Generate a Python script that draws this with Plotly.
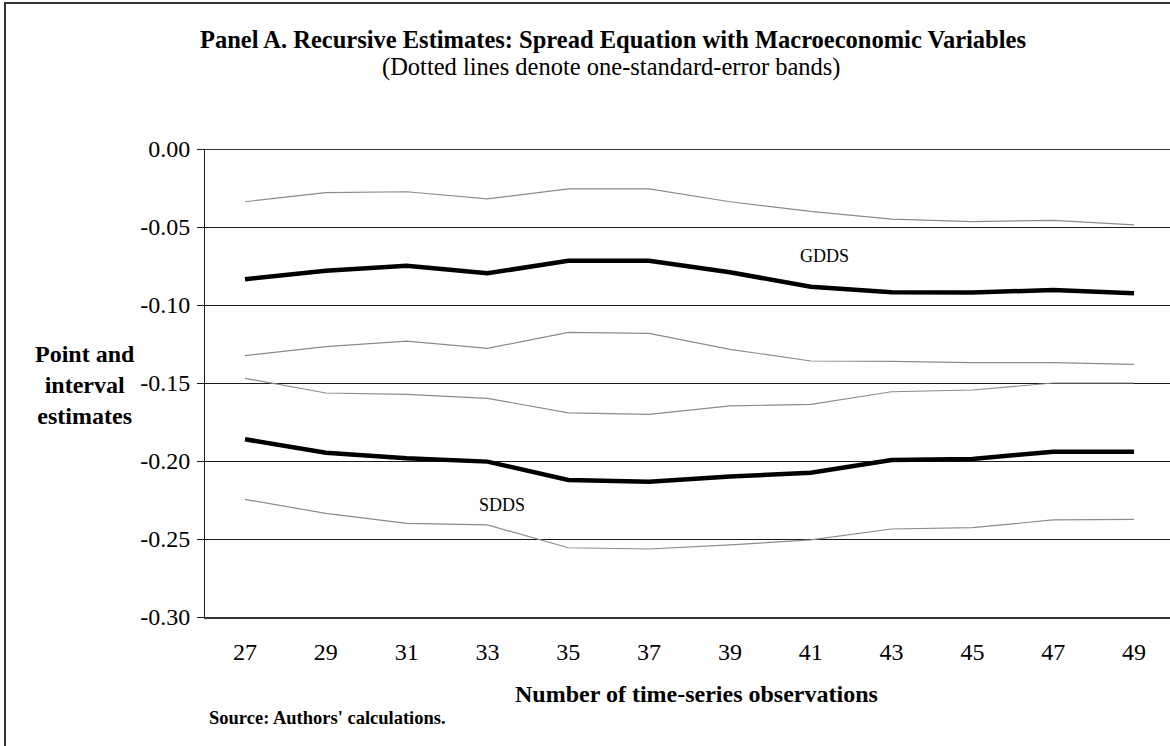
import plotly.graph_objects as go

# ---------------- data ----------------
obs = [27, 29, 31, 33, 35, 37, 39, 41, 43, 45, 47, 49]

gdds_upper = [-0.0338, -0.0280, -0.0274, -0.0320, -0.0256, -0.0256, -0.0338, -0.0400, -0.0450, -0.0466, -0.0457, -0.0487]
gdds_point = [-0.0835, -0.0780, -0.0748, -0.0797, -0.0716, -0.0716, -0.0790, -0.0883, -0.0919, -0.0920, -0.0904, -0.0925]
gdds_lower = [-0.1325, -0.1267, -0.1231, -0.1278, -0.1175, -0.1182, -0.1284, -0.1359, -0.1361, -0.1370, -0.1370, -0.1380]

sdds_upper = [-0.1470, -0.1564, -0.1573, -0.1598, -0.1692, -0.1701, -0.1647, -0.1637, -0.1556, -0.1545, -0.1500, -0.1500]
sdds_point = [-0.1861, -0.1947, -0.1983, -0.2004, -0.2122, -0.2133, -0.2100, -0.2075, -0.1994, -0.1987, -0.1940, -0.1940]
sdds_lower = [-0.2246, -0.2336, -0.2400, -0.2410, -0.2556, -0.2564, -0.2538, -0.2506, -0.2436, -0.2427, -0.2378, -0.2374]

y_ticks = [0.00, -0.05, -0.10, -0.15, -0.20, -0.25, -0.30]

# ---------------- layout geometry (pixels) ----------------
W, H = 1170, 746
ML, MR, MT, MB = 205, 0, 149, 129
PW, PH = W - ML - MR, H - MT - MB


def px_x(p):
    return (p - ML) / PW


def px_y(p):
    return 1 - (p - MT) / PH


SERIF = "Liberation Serif, Times New Roman, serif"

fig = go.Figure()

band_style = dict(color="#8c8c8c", width=1.2)
point_style = dict(color="#000000", width=4.5)

for ys, st in [(gdds_upper, band_style), (gdds_lower, band_style),
               (sdds_upper, band_style), (sdds_lower, band_style),
               (gdds_point, point_style), (sdds_point, point_style)]:
    fig.add_trace(go.Scatter(x=obs, y=ys, mode="lines", line=st,
                             hoverinfo="skip", showlegend=False))

fig.update_layout(
    width=W, height=H,
    margin=dict(l=ML, r=MR, t=MT, b=MB, pad=0),
    paper_bgcolor="white", plot_bgcolor="white",
    font=dict(family=SERIF, color="black", size=24),
    showlegend=False,
)

fig.update_xaxes(
    range=[26.01, 49.89],
    tickvals=obs, ticktext=[str(v) for v in obs],
    showgrid=False, zeroline=False,
    showline=True, linecolor="#333333", linewidth=2,
    ticks="", ticklabelstandoff=12,
    tickfont=dict(family=SERIF, size=24, color="black"),
)

fig.update_yaxes(
    range=[-0.30, 0.0],
    tickvals=y_ticks, ticktext=[f"{v:.2f}" for v in y_ticks],
    showgrid=True, gridcolor="#1a1a1a", gridwidth=1,
    zeroline=False,
    showline=True, linecolor="#1a1a1a", linewidth=1,
    ticks="outside", ticklen=7, tickcolor="#1a1a1a", tickwidth=1,
    ticklabelstandoff=2,
    tickfont=dict(family=SERIF, size=24, color="black"),
)

# top gridline at 0.00 (drawn explicitly so it is visible at the plot edge)
fig.add_shape(type="line", xref="paper", yref="y", x0=0, x1=1, y0=0, y1=0,
              line=dict(color="#333333", width=2))

# frame around the whole chart (left and top edges visible)
fig.add_shape(type="rect", xref="paper", yref="paper",
              x0=px_x(5), x1=px_x(1300), y0=px_y(3), y1=px_y(900),
              line=dict(color="#333333", width=2), layer="below")

ann = [
    dict(text="<b>Panel A. Recursive Estimates: Spread Equation with Macroeconomic Variables</b>",
         x=px_x(613), y=px_y(40), size=24.5),
    dict(text="(Dotted lines denote one-standard-error bands)",
         x=px_x(611), y=px_y(67), size=24.5),
    dict(text="<b>Number of time-series observations</b>",
         x=px_x(696), y=px_y(694), size=24),
    dict(text="<b>Point and<br>interval<br>estimates</b>",
         x=px_x(85), y=px_y(385), size=24),
]
for a in ann:
    fig.add_annotation(text=a["text"], xref="paper", yref="paper",
                       x=a["x"], y=a["y"], xanchor="center", yanchor="middle",
                       showarrow=False, align="center",
                       font=dict(family=SERIF, size=a["size"], color="black"))

fig.add_annotation(text="<b>Source: Authors' calculations.</b>", xref="paper", yref="paper",
                   x=px_x(207), y=px_y(718), xanchor="left", yanchor="middle",
                   showarrow=False, font=dict(family=SERIF, size=18.5, color="black"))

# series labels
fig.add_annotation(text="GDDS", x=41.33, y=-0.0686, xref="x", yref="y",
                   showarrow=False, font=dict(family=SERIF, size=18, color="black"))
fig.add_annotation(text="SDDS", x=33.36, y=-0.228, xref="x", yref="y",
                   showarrow=False, font=dict(family=SERIF, size=18, color="black"))

fig.write_html(
    "out.html",
    config={"displayModeBar": False, "staticPlot": True},
    post_script="document.body.style.margin='0';document.documentElement.style.overflow='hidden';",
)
